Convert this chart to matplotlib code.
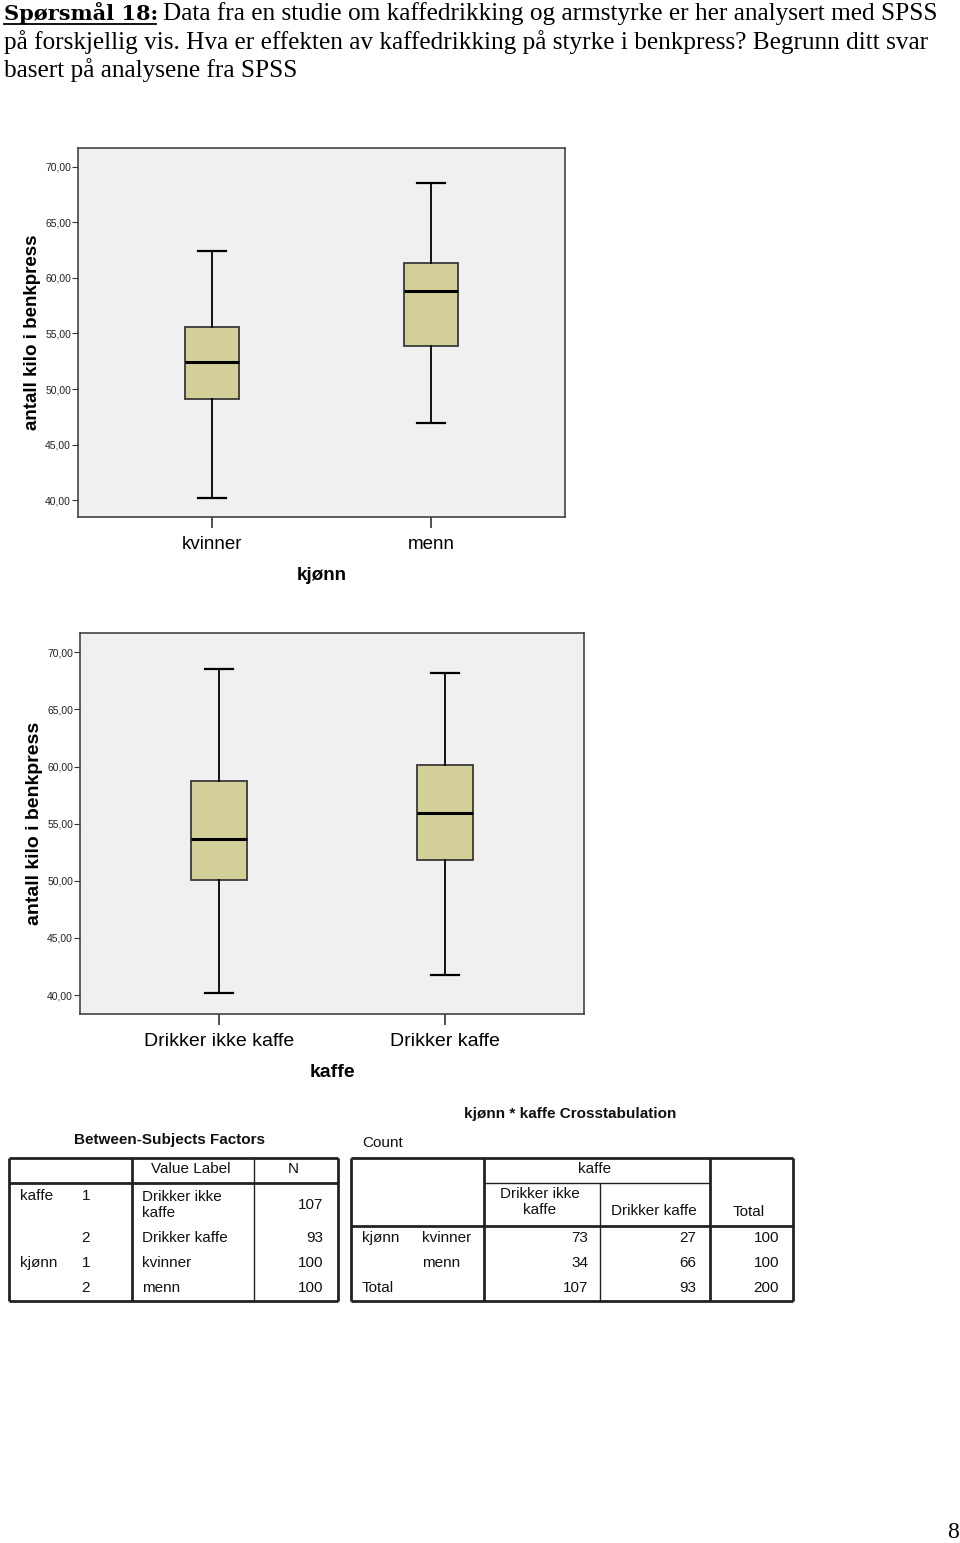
import matplotlib
matplotlib.use("Agg")
import matplotlib.pyplot as plt

# box plot data
sex_labels = ["kvinner", "menn"]
sex_whislo = [40.2, 46.9]
sex_q1 = [49.1, 53.85]
sex_med = [52.4, 58.8]
sex_q3 = [55.6, 61.35]
sex_whishi = [62.4, 68.55]

coffee_labels = ["Drikker ikke kaffe", "Drikker kaffe"]
coffee_whislo = [40.2, 41.75]
coffee_q1 = [50.05, 51.85]
coffee_med = [53.65, 55.9]
coffee_q3 = [58.75, 60.1]
coffee_whishi = [68.5, 68.2]

y_ticks = [40, 45, 50, 55, 60, 65, 70]

# SPSS tables
bsf_vars = ["kaffe", "", "kjønn", ""]
bsf_codes = ["1", "2", "1", "2"]
bsf_labels = ["Drikker ikke\nkaffe", "Drikker kaffe", "kvinner", "menn"]
bsf_n = [107, 93, 100, 100]

cross_rows = ["kvinner", "menn"]
cross_cols = ["Drikker ikke\nkaffe", "Drikker kaffe"]
cross_counts = [[73, 27], [34, 66]]
cross_row_tot = [100, 100]
cross_col_tot = [107, 93]
cross_total = 200

W, H = 960, 1543
SANS = "Liberation Sans"
SERIF = "Liberation Serif"
BOX_COLOR = "#d3cf98"

fig = plt.figure(figsize=(W / 100, H / 100), dpi=100)
fig.patch.set_facecolor("white")


def px_axes(x0, y0, x1, y1):
    return fig.add_axes([x0 / W, 1 - y1 / H, (x1 - x0) / W, (y1 - y0) / H])


def boxchart(rect, labels, lo, q1, med, q3, hi, xlim, ylim, xname, fs):
    ax = px_axes(*rect)
    stats = []
    for i in range(len(labels)):
        stats.append(dict(whislo=lo[i], q1=q1[i], med=med[i], q3=q3[i],
                          whishi=hi[i], fliers=[], label=labels[i]))
    ax.bxp(stats, positions=[1, 2], widths=0.25, capwidths=0.125,
           showfliers=False, patch_artist=True,
           boxprops=dict(facecolor=BOX_COLOR, edgecolor="#3a3a3a", linewidth=1.3),
           medianprops=dict(color="black", linewidth=2.2),
           whiskerprops=dict(color="black", linewidth=1.3),
           capprops=dict(color="black", linewidth=1.6))
    ax.set_facecolor("#f0f0f0")
    ax.set_xlim(*xlim)
    ax.set_ylim(*ylim)
    ax.set_yticks(y_ticks)
    ax.set_yticklabels([f"{v:.2f}".replace(".", ",") for v in y_ticks],
                       fontsize=7.5, family=SANS, color="#222222")
    ax.tick_params(axis="y", length=4, width=0.8, pad=1, color="#333333")
    ax.tick_params(axis="x", length=8, width=1.2, pad=6, color="#333333")
    ax.set_xticks([1, 2])
    ax.set_xticklabels(labels, fontsize=fs, family=SANS)
    for s in ax.spines.values():
        s.set_color("#444444")
        s.set_linewidth(1.2)
    ax.set_xlabel(xname, fontsize=fs, fontweight="bold", family=SANS, labelpad=10)
    ax.set_ylabel("antall kilo i benkpress", fontsize=fs, fontweight="bold",
                  family=SANS, labelpad=3)
    return ax


boxchart((78, 148, 565, 517), sex_labels, sex_whislo, sex_q1, sex_med, sex_q3,
         sex_whishi, (0.388, 2.612), (38.47, 71.71), "kjønn", 13.5)
boxchart((80, 633, 584, 1014), coffee_labels, coffee_whislo, coffee_q1,
         coffee_med, coffee_q3, coffee_whishi, (0.385, 2.615), (38.34, 71.69),
         "kaffe", 14)

# page layer in pixel coordinates for header text and tables
pg = fig.add_axes([0, 0, 1, 1], zorder=-1)
pg.set_xlim(0, W)
pg.set_ylim(H, 0)
pg.axis("off")

HFS = 18.2
pg.text(4, 20, "Spørsmål 18:", family="DejaVu Serif", fontweight="bold",
        fontsize=15, va="baseline", ha="left")
pg.plot([4, 156], [24, 24], color="black", lw=1.3)
pg.text(163, 20, "Data fra en studie om kaffedrikking og armstyrke er her analysert med SPSS",
        family=SERIF, fontsize=HFS, va="baseline", ha="left")
pg.text(4, 48.5, "på forskjellig vis. Hva er effekten av kaffedrikking på styrke i benkpress? Begrunn ditt svar",
        family=SERIF, fontsize=HFS, va="baseline", ha="left")
pg.text(4, 77, "basert på analysene fra SPSS",
        family=SERIF, fontsize=HFS, va="baseline", ha="left")
pg.text(953, 1532, "8", family=SERIF, fontsize=17, ha="center", va="center")

TFS = 11
THICK = 2.0
THIN = 1.0


def hline(y, x0, x1, lw):
    pg.plot([x0, x1], [y, y], color="#222222", lw=lw, solid_capstyle="butt")


def vline(x, y0, y1, lw):
    pg.plot([x, x], [y0, y1], color="#222222", lw=lw, solid_capstyle="butt")


def t(x, y, s, ha="left", bold=False):
    pg.text(x, y, s, family=SANS, fontsize=TFS, ha=ha, va="center",
            fontweight="bold" if bold else "normal", color="#111111",
            linespacing=1.2)


# Between-Subjects Factors
t(170, 1140, "Between-Subjects Factors", ha="center", bold=True)
for y in (1158, 1301):
    hline(y, 9, 338, THICK)
for x in (9, 338):
    vline(x, 1158, 1301, THICK)
hline(1183, 9, 338, THICK)
vline(132, 1158, 1301, THICK)
vline(254, 1158, 1301, THIN)
t(191, 1169, "Value Label", ha="center")
t(293, 1169, "N", ha="center")
row_y = [1205, 1238, 1263, 1288]
for i in range(4):
    ytop = 1196 if i == 0 else row_y[i]
    if bsf_vars[i]:
        t(20, ytop, bsf_vars[i])
    t(86, ytop, bsf_codes[i], ha="center")
    t(142, row_y[i], bsf_labels[i])
    t(323, row_y[i], str(bsf_n[i]), ha="right")

# kjønn * kaffe Crosstabulation
t(570, 1114, "kjønn * kaffe Crosstabulation", ha="center", bold=True)
t(362, 1143, "Count")
for y in (1158, 1301):
    hline(y, 351, 793, THICK)
for x in (351, 793):
    vline(x, 1158, 1301, THICK)
vline(484, 1158, 1301, THICK)
vline(710, 1158, 1301, THICK)
vline(600, 1183, 1301, THIN)
hline(1183, 484, 710, THIN)
hline(1226, 351, 793, THICK)
t(595, 1169, "kaffe", ha="center")
t(540, 1202, cross_cols[0], ha="center")
t(654, 1211, cross_cols[1], ha="center")
t(749, 1212, "Total", ha="center")
col_x = [588, 696, 779]
cy = [1238, 1263]
t(362, 1238, "kjønn")
for i in range(2):
    t(422, cy[i], cross_rows[i])
    t(col_x[0], cy[i], str(cross_counts[i][0]), ha="right")
    t(col_x[1], cy[i], str(cross_counts[i][1]), ha="right")
    t(col_x[2], cy[i], str(cross_row_tot[i]), ha="right")
t(362, 1288, "Total")
t(col_x[0], 1288, str(cross_col_tot[0]), ha="right")
t(col_x[1], 1288, str(cross_col_tot[1]), ha="right")
t(col_x[2], 1288, str(cross_total), ha="right")

fig.savefig("out.png", dpi=100)
